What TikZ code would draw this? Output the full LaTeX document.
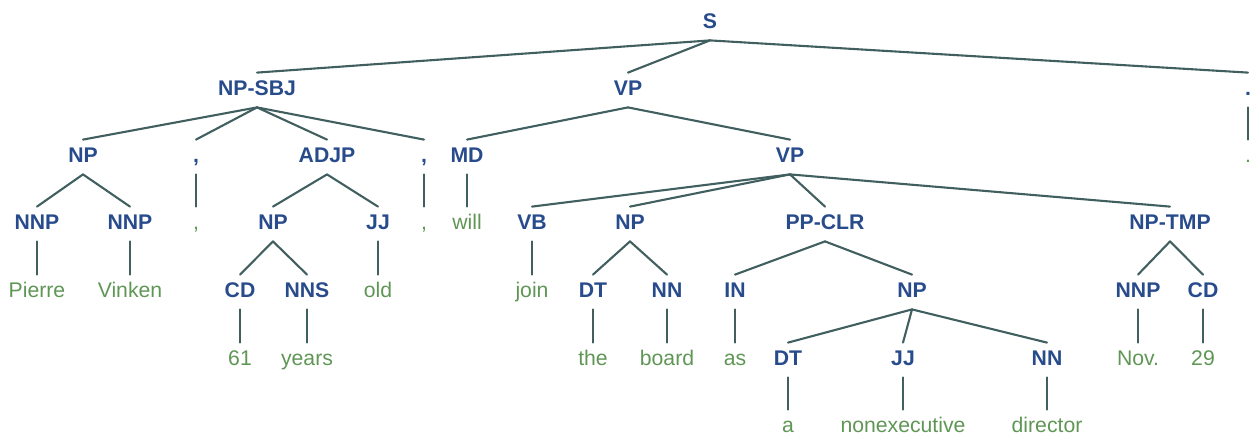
\documentclass[tikz,border=0pt]{standalone}
\usepackage{fontspec}
\setmainfont{Liberation Sans}
\definecolor{tagblue}{RGB}{40,75,140}
\definecolor{leafgreen}{RGB}{95,150,85}
\definecolor{branchgrey}{RGB}{65,95,95}
% one branch of the tree: from below the parent label to above the child label
\newcommand\treeedge[2]{\draw[branchline] ([yshift=-5.75pt]#1.south) -- ([yshift=3.75pt]#2.north);}
\begin{document}
\begin{tikzpicture}[x=0.5pt,y=-0.5pt,
  lbl/.style={inner sep=0pt, text height=7.5pt, text depth=0pt},
  tag/.style={lbl, text=tagblue, font=\fontsize{10.6}{12}\selectfont\bfseries},
  leaf/.style={lbl, text=leafgreen, font=\fontsize{10.6}{12}\selectfont},
  branchline/.style={draw=branchgrey, line width=1.05pt, line cap=round},
]
\useasboundingbox (0,0) rectangle (1257,439);

% level 1
\node[tag] (s) at (710,21) {S};
% level 2
\node[tag] (npsbj) at (257,88) {NP-SBJ};
\node[tag] (vpa) at (628,88) {VP};
\node[tag] (ptag) at (1248,88) {.};
% level 3
\node[tag] (npa) at (83,155) {NP};
\node[tag] (ctaga) at (196,155) {,};
\node[tag] (adjp) at (327,155) {ADJP};
\node[tag] (ctagb) at (424,155) {,};
\node[tag] (md) at (467,155) {MD};
\node[tag] (vpb) at (790,155) {VP};
\node[leaf] (pleaf) at (1248,155) {.};
% level 4
\node[tag] (nnpa) at (37,222) {NNP};
\node[tag] (nnpb) at (130,222) {NNP};
\node[leaf] (cleafa) at (196,222) {,};
\node[tag] (npb) at (273,222) {NP};
\node[tag] (jja) at (378,222) {JJ};
\node[leaf] (cleafb) at (424,222) {,};
\node[leaf] (will) at (467,222) {will};
\node[tag] (vb) at (532,222) {VB};
\node[tag] (npc) at (630,222) {NP};
\node[tag] (ppclr) at (825,222) {PP-CLR};
\node[tag] (nptmp) at (1170,222) {NP-TMP};
% level 5
\node[leaf] (pierre) at (37,290) {Pierre};
\node[leaf] (vinken) at (130,290) {Vinken};
\node[tag] (cda) at (240,290) {CD};
\node[tag] (nns) at (307,290) {NNS};
\node[leaf] (old) at (378,290) {old};
\node[leaf] (join) at (532,290) {join};
\node[tag] (dta) at (593,290) {DT};
\node[tag] (nna) at (667,290) {NN};
\node[tag] (inp) at (735,290) {IN};
\node[tag] (npd) at (912,290) {NP};
\node[tag] (nnpc) at (1138,290) {NNP};
\node[tag] (cdb) at (1203,290) {CD};
% level 6
\node[leaf] (sixtyone) at (240,358) {61};
\node[leaf] (years) at (307,358) {years};
\node[leaf] (the) at (593,358) {the};
\node[leaf] (board) at (667,358) {board};
\node[leaf] (as) at (735,358) {as};
\node[tag] (dtb) at (788,358) {DT};
\node[tag] (jjb) at (903,358) {JJ};
\node[tag] (nnb) at (1047,358) {NN};
\node[leaf] (nov) at (1138,358) {Nov.};
\node[leaf] (twentynine) at (1203,358) {29};
% level 7
\node[leaf] (a) at (788,425) {a};
\node[leaf] (nonexec) at (903,425) {nonexecutive};
\node[leaf] (director) at (1047,425) {director};

% branches
\treeedge{s}{npsbj}
\treeedge{s}{vpa}
\treeedge{s}{ptag}
\treeedge{ptag}{pleaf}
\treeedge{npsbj}{npa}
\treeedge{npsbj}{ctaga}
\treeedge{npsbj}{adjp}
\treeedge{npsbj}{ctagb}
\treeedge{npa}{nnpa}
\treeedge{npa}{nnpb}
\treeedge{nnpa}{pierre}
\treeedge{nnpb}{vinken}
\treeedge{ctaga}{cleafa}
\treeedge{ctagb}{cleafb}
\treeedge{adjp}{npb}
\treeedge{adjp}{jja}
\treeedge{npb}{cda}
\treeedge{npb}{nns}
\treeedge{cda}{sixtyone}
\treeedge{nns}{years}
\treeedge{jja}{old}
\treeedge{vpa}{md}
\treeedge{vpa}{vpb}
\treeedge{md}{will}
\treeedge{vpb}{vb}
\treeedge{vpb}{npc}
\treeedge{vpb}{ppclr}
\treeedge{vpb}{nptmp}
\treeedge{vb}{join}
\treeedge{npc}{dta}
\treeedge{npc}{nna}
\treeedge{dta}{the}
\treeedge{nna}{board}
\treeedge{ppclr}{inp}
\treeedge{ppclr}{npd}
\treeedge{inp}{as}
\treeedge{npd}{dtb}
\treeedge{npd}{jjb}
\treeedge{npd}{nnb}
\treeedge{dtb}{a}
\treeedge{jjb}{nonexec}
\treeedge{nnb}{director}
\treeedge{nptmp}{nnpc}
\treeedge{nptmp}{cdb}
\treeedge{nnpc}{nov}
\treeedge{cdb}{twentynine}
\end{tikzpicture}
\end{document}
